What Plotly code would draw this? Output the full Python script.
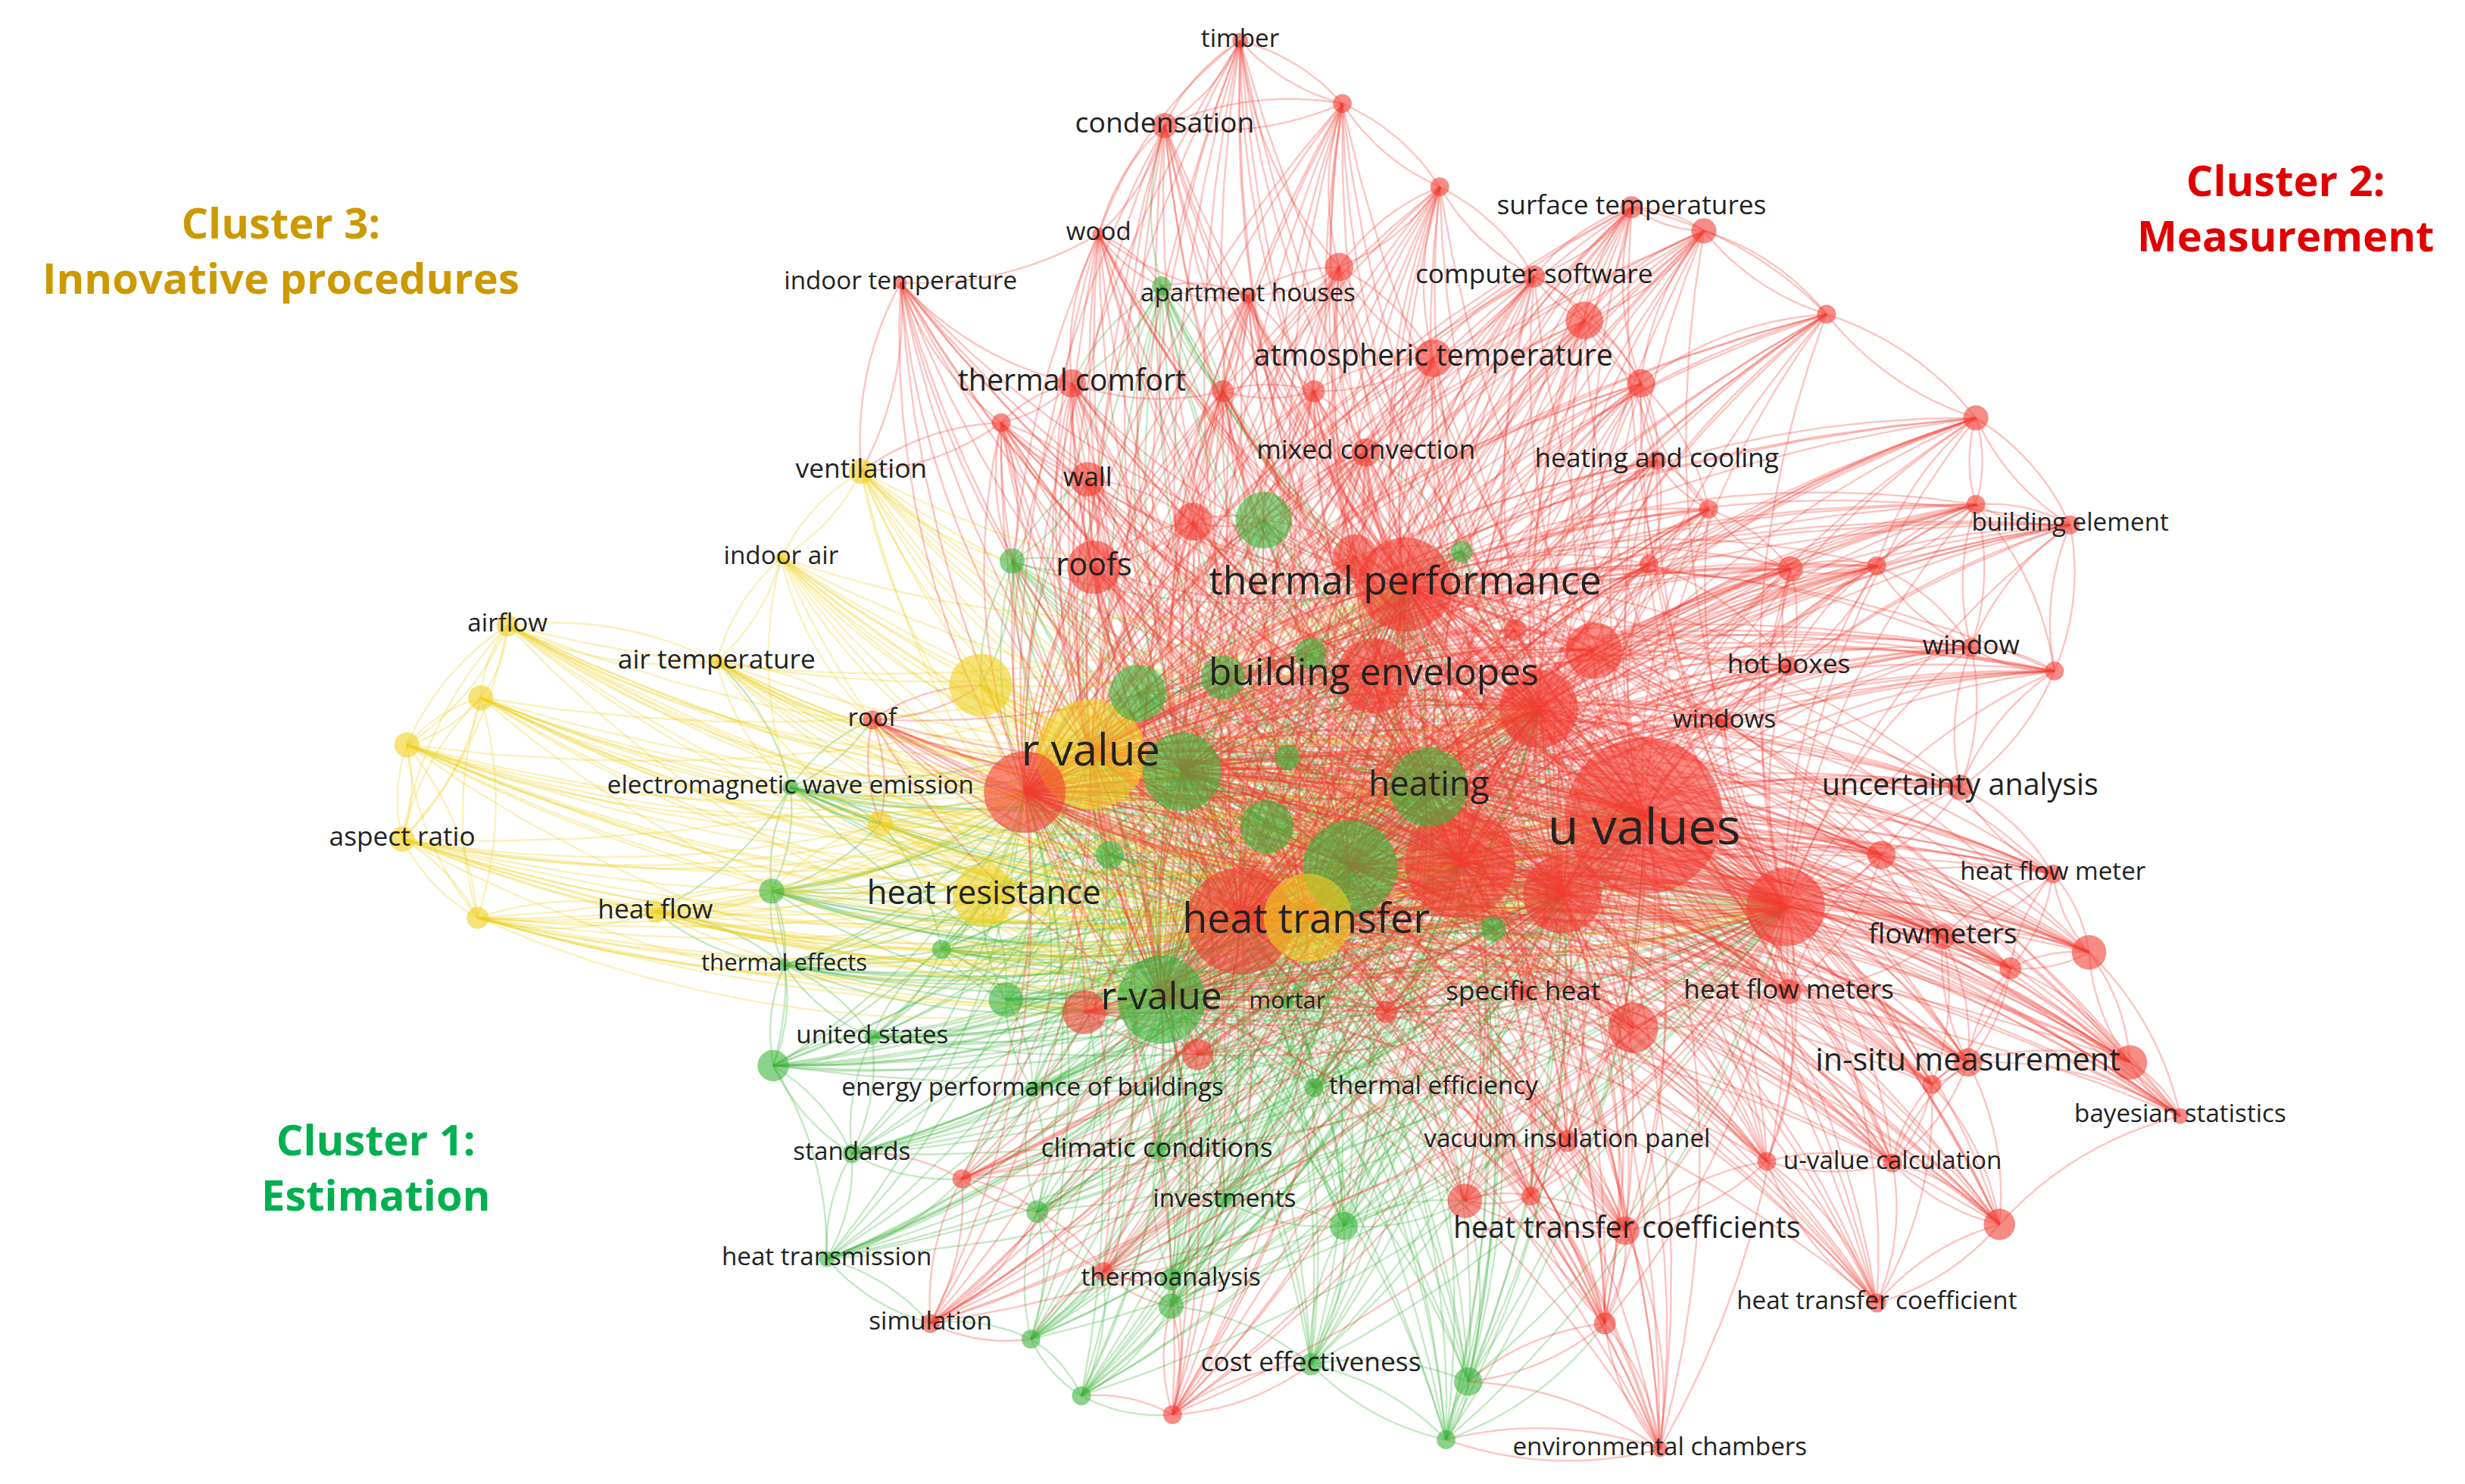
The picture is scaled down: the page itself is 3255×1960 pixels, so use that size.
import plotly.graph_objects as go

W, H = 3255, 1960
S = W / 1568.0

names = ["timber","condensation","wood","indoor temperature","apartment houses","computer software",
 "surface temperatures","atmospheric temperature","thermal comfort","mixed convection","heating and cooling",
 "wall","building element","roofs","thermal performance","building envelopes","hot boxes","window","windows",
 "roof","uncertainty analysis","u values","heat flow meter","flowmeters","heat flow meters","in-situ measurement",
 "bayesian statistics","vacuum insulation panel","u-value calculation","heat transfer coefficients",
 "heat transfer coefficient","environmental chambers","simulation","heat transfer","specific heat",
 "heating","r-value","mortar","united states","energy performance of buildings","thermal efficiency","standards",
 "climatic conditions","investments","heat transmission","thermoanalysis","cost effectiveness","thermal effects",
 "electromagnetic wave emission",
 "ventilation","indoor air","airflow","air temperature","r value","aspect ratio","heat flow","heat resistance"]
xs = [785,737,695,569,790,972,1034,908,678,865,1050,688,1313,692,890,870,1134,1250,1093,551,1243,1042,1302,1232,
 1134,1248,1383,993,1200,1030,1190,1052,588,785,965,
 905,735,815,551,653,832,538,732,775,522,741,830,495,499,
 544,493,319,452,690,252,413,622]
ys = [22,76,145,176,184,172,128,224,240,284,289,301,330,357,368,426,420,408,455,454,497,515,552,592,627,672,706,722,
 736,779,825,918,838,582,628,
 497,632,634,656,689,688,730,728,760,797,810,864,610,497,
 296,351,394,417,476,530,576,566]
rs = [5,8,4,4,5,7,7,12,9,9,6,11,6,17,30,24,6,6,6,6,8,50,6,8,8,9,5,7,6,9,6,5,6,34,6,
 25,28,4,5,5,6,6,6,5,5,7,7,4,5,
 8,4,7,5,35,8,7,20]
clusters = [2]*35 + [1]*14 + [3]*8
lsz = [16,18,16,16,16,17,17,19,19,17,17,17,16,20,25,24,17,17,16,16,19,32,16,18,17,20,16,16,16,19,16,16,16,26,17,
 22,24,15,16,16,16,16,17,16,16,16,17,15,16,
 17,16,16,17,28,17,17,21]
# label positions (VOSviewer places some labels off the node centre)
lab_x = list(xs); lab_y = list(ys)
lab_x[33] = 827; lab_y[33] = 583
lab_y[21] = 525
lab_x[40] = 908
lab_x[29] = 1031

u_x = [925,648,855,828,748,990,975,1010,1132,800,755,858,620,720,802,774,830,815,1035,1325,1268,928,930,851,686,758,
 300,255,302,556,1004,848,1040,1080,640,926,702,636,487,488,656,652,684,916,608,742,698,1158,1253,1253,1190,1135,
 1303,1193,1351,1017,850,912,633,774,832,1083,1045,960,1275,1225,1120,970,878,946,735,595,741]
u_y = [545,500,548,580,487,565,447,410,573,327,328,350,432,437,522,427,412,478,650,602,775,760,875,776,640,667,
 580,470,440,520,200,166,240,143,353,347,540,632,563,674,767,848,884,912,746,896,805,196,262,317,356,358,
 423,540,672,838,62,115,265,245,245,320,355,397,612,686,735,757,640,587,178,600,827]
u_r = [35,26,30,28,25,25,25,18,25,18,12,14,20,18,17,14,10,8,16,11,10,11,9,9,14,10,
 7,8,8,8,12,9,9,8,8,7,9,11,8,10,7,6,6,6,6,6,6,6,8,6,6,8,
 6,9,11,7,6,6,6,7,7,6,6,7,7,6,6,6,7,8,6,6,8]
u_c = [2,2,1,3,1,2,2,2,2,1,2,2,3,1,1,1,1,1,2,2,2,2,1,1,2,2,
 3,3,3,3,2,2,2,2,1,1,1,1,1,1,1,1,1,1,2,2,2,2,2,2,2,2,
 2,2,2,2,2,2,2,2,2,2,2,2,2,2,2,2,2,1,1,1,1]

cluster_text = ["Cluster 1:<br>Estimation", "Cluster 2:<br>Measurement", "Cluster 3:<br>Innovative procedures"]
cluster_tx = [235, 1450, 175]
cluster_ty = [738, 128, 155]

COL = {1: (60, 180, 60), 2: (242, 60, 50), 3: (240, 208, 30)}
TXT = {1: "#00B050", 2: "#E00000", 3: "#CC9900"}

X = xs + u_x; Y = ys + u_y; R = rs + u_r; C = clusters + u_c
n = len(X)
order = sorted(range(n), key=lambda i: -R[i])
hubs = order[:14]

edges = set()
for i in range(n):
    for h in hubs:
        if h != i and (R[h] > R[i] or i in hubs):
            edges.add((i, h))
    near = sorted(range(n), key=lambda j: (X[i]-X[j])**2 + (Y[i]-Y[j])**2)[1:5]
    for j in near:
        edges.add((i, j))

fig = go.Figure()
for c in (1, 3, 2):
    ex, ey = [], []
    for (i, j) in edges:
        src = i if R[i] <= R[j] else j
        if C[src] != c:
            continue
        x0, y0, x1, y1 = X[i], Y[i], X[j], Y[j]
        mx, my = (x0+x1)/2, (y0+y1)/2
        dx, dy = x1-x0, y1-y0
        cx, cy = mx - dy*0.15, my + dx*0.15
        for k in range(13):
            t = k/12
            ex.append((1-t)**2*x0 + 2*t*(1-t)*cx + t*t*x1)
            ey.append((1-t)**2*y0 + 2*t*(1-t)*cy + t*t*y1)
        ex.append(None); ey.append(None)
    r, g, b = COL[c]
    fig.add_trace(go.Scatter(x=ex, y=ey, mode="lines", hoverinfo="skip",
        line=dict(color=f"rgba({r},{g},{b},0.3)", width=2.4)))

idx = sorted(range(n), key=lambda i: -R[i])
fig.add_trace(go.Scatter(x=[X[i] for i in idx], y=[Y[i] for i in idx], mode="markers", hoverinfo="skip",
    marker=dict(size=[2*R[i]*S for i in idx],
                color=["rgba(%d,%d,%d,0.85)" % COL[C[i]] for i in idx], line=dict(width=0))))

fig.add_trace(go.Scatter(x=lab_x, y=lab_y, mode="text", text=names, hoverinfo="skip",
    textfont=dict(size=[s*S for s in lsz], color="#222222", family="Open Sans")))

for t, x, y, c in zip(cluster_text, cluster_tx, cluster_ty, [1, 2, 3]):
    fig.add_annotation(x=x, y=y, text="<b>"+t+"</b>", showarrow=False,
        font=dict(size=27*S, color=TXT[c], family="Open Sans"), align="center")

fig.update_layout(width=W, height=H, margin=dict(l=0, r=0, t=0, b=0), showlegend=False,
    plot_bgcolor="white", paper_bgcolor="white",
    xaxis=dict(range=[0, 1568], visible=False),
    yaxis=dict(range=[944, 0], visible=False))
fig.write_html("out.html")
